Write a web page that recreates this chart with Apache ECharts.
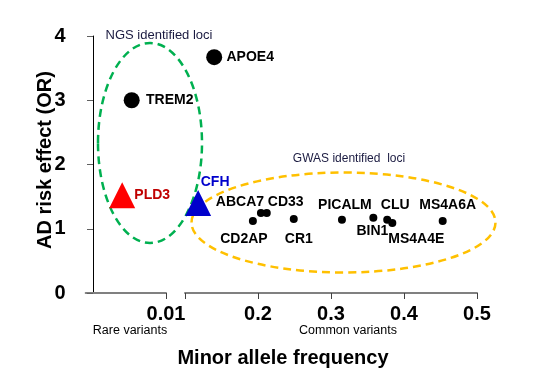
<!DOCTYPE html>
<html>
<head>
<meta charset="utf-8">
<script src="https://cdn.jsdelivr.net/npm/echarts@6/dist/echarts.min.js"></script>
<style>html,body{margin:0;padding:0;background:#fff}#c{width:544px;height:381px}</style>
</head>
<body>
<div id="c"></div>
<script>
// ---- data ----
const genes    = ['PLD3', 'TREM2', 'APOE4', 'CFH', 'CD2AP', 'ABCA7', 'CD33', 'CR1', 'PICALM', 'BIN1', 'CLU', 'MS4A4E', 'MS4A6A'];
const mafValues = [0.004, 0.0053, 0.14, 0.118, 0.193, 0.204, 0.212, 0.249, 0.315, 0.358, 0.377, 0.384, 0.453];
const orValues  = [1.52, 3.0, 3.67, 1.40, 1.12, 1.245, 1.245, 1.15, 1.14, 1.17, 1.14, 1.09, 1.12];
const markerKind = ['redTri', 'big', 'big', 'blueTri', 'small', 'small', 'small', 'small', 'small', 'small', 'small', 'small', 'small'];
const yTicks = [0, 1, 2, 3, 4];
const rareTicks = [0.01];
const commonTicks = [0.2, 0.3, 0.4, 0.5];

// ---- styles ----
const FONT = '"Liberation Sans", Arial, sans-serif';
const labelOffsets = {
  PLD3: [30, 0], TREM2: [38, 0], APOE4: [36, 0], CFH: [17, -21],
  CD2AP: [-9, 18], ABCA7: [-21, -11], CD33: [19, -11], CR1: [5, 20],
  PICALM: [3, -15], BIN1: [-1, 13], CLU: [8, -15], MS4A4E: [24, 16], MS4A6A: [5, -16]
};
const kindStyle = {
  big: { symbol: 'circle', size: 16, color: '#000', labelColor: '#000' },
  small: { symbol: 'circle', size: 8, color: '#000', labelColor: '#000' },
  redTri: { symbol: 'triangle', size: 26, color: '#ff0000', labelColor: '#c00000' },
  blueTri: { symbol: 'triangle', size: 26, color: '#0000cc', labelColor: '#0000cc' }
};

function buildData(rare) {
  const out = [];
  genes.forEach((g, i) => {
    const isRare = mafValues[i] < 0.05;
    if (isRare !== rare) return;
    const k = kindStyle[markerKind[i]];
    out.push({
      name: g,
      value: [mafValues[i], orValues[i]],
      symbol: k.symbol,
      symbolSize: k.size,
      itemStyle: { color: k.color, opacity: 1 },
      label: {
        show: true, formatter: g, position: 'inside', align: 'center', verticalAlign: 'middle',
        offset: labelOffsets[g], color: k.labelColor, opacity: 1,
        fontFamily: FONT, fontWeight: 'bold', fontSize: 14
      }
    });
  });
  return out;
}

const axisFont = { fontFamily: FONT, fontWeight: 'bold', fontSize: 20, color: '#000' };
const chart = echarts.init(document.getElementById('c'), null, { renderer: 'canvas' });
chart.setOption({
  animation: false,
  grid: [
    { left: 85.7, top: 36, width: 80.3, height: 257 },
    { left: 185, top: 36, width: 292, height: 257 }
  ],
  xAxis: [
    {
      gridIndex: 0, type: 'value', min: -0.001, max: 0.01,
      splitLine: { show: false },
      axisLine: { show: true, lineStyle: { color: '#808080', width: 2 } },
      axisTick: { show: true, customValues: rareTicks, length: 6, lineStyle: { color: '#404040', width: 1 } },
      axisLabel: Object.assign({ customValues: rareTicks, margin: 11, formatter: v => v.toFixed(2) }, axisFont)
    },
    {
      gridIndex: 1, type: 'value', min: 0.1, max: 0.5, interval: 0.1,
      splitLine: { show: false },
      axisLine: { show: true, lineStyle: { color: '#808080', width: 2 } },
      axisTick: { show: true, length: 6, lineStyle: { color: '#404040', width: 1 } },
      axisLabel: Object.assign({ customValues: commonTicks, margin: 11, formatter: v => v.toFixed(1) }, axisFont)
    }
  ],
  yAxis: [
    {
      gridIndex: 0, type: 'value', min: 0, max: 4, interval: 1,
      splitLine: { show: false },
      axisLine: { show: true, onZero: true, lineStyle: { color: '#000', width: 1 } },
      axisTick: { show: true, length: 6, lineStyle: { color: '#606060' } },
      axisLabel: Object.assign({ margin: 20, customValues: yTicks }, axisFont)
    },
    {
      gridIndex: 1, type: 'value', min: 0, max: 4, interval: 1, show: false
    }
  ],
  graphic: [
    { type: 'ellipse', z: 0, shape: { cx: 150, cy: 143, rx: 52, ry: 100 },
      style: { fill: 'none', stroke: '#00b050', lineWidth: 2.5, lineDash: [8, 5] } },
    { type: 'ellipse', z: 0, shape: { cx: 343.5, cy: 222.5, rx: 152, ry: 50 },
      style: { fill: 'none', stroke: '#ffc000', lineWidth: 2.5, lineDash: [8, 5] } },
    { type: 'text', x: 159, y: 35, style: { text: 'NGS identified loci', fill: '#1a1a40', font: '13px ' + FONT, align: 'center', verticalAlign: 'middle' } },
    { type: 'text', x: 349, y: 159, style: { text: 'GWAS identified  loci', fill: '#1a1a40', font: '12px ' + FONT, align: 'center', verticalAlign: 'middle' } },
    { type: 'text', x: 130, y: 331, style: { text: 'Rare variants', fill: '#000', font: '12.5px ' + FONT, align: 'center', verticalAlign: 'middle' } },
    { type: 'text', x: 348, y: 331, style: { text: 'Common variants', fill: '#000', font: '12.5px ' + FONT, align: 'center', verticalAlign: 'middle' } },
    { type: 'text', x: 283, y: 358, style: { text: 'Minor allele frequency', fill: '#000', font: 'bold 20px ' + FONT, align: 'center', verticalAlign: 'middle' } },
    { type: 'text', x: 45, y: 160, rotation: Math.PI / 2, style: { text: 'AD risk effect (OR)', fill: '#000', font: 'bold 20px ' + FONT, align: 'center', verticalAlign: 'middle' } }
  ],
  series: [
    { type: 'scatter', xAxisIndex: 0, yAxisIndex: 0, z: 5, data: buildData(true) },
    { type: 'scatter', xAxisIndex: 1, yAxisIndex: 1, z: 5, data: buildData(false) }
  ]
});
</script>
</body>
</html>
